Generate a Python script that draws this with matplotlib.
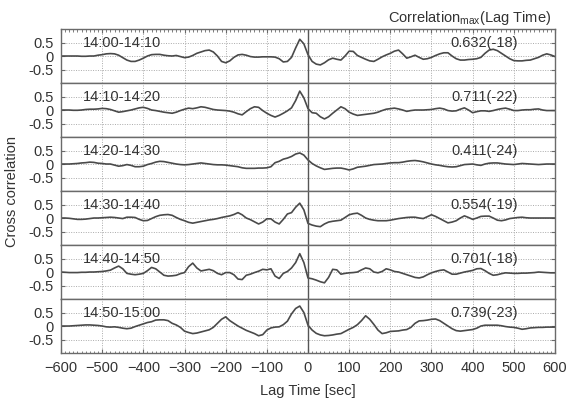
import numpy as np
import matplotlib
matplotlib.use("Agg")
import matplotlib.pyplot as plt
from matplotlib.ticker import MultipleLocator

plt.rcParams['font.family'] = ['Liberation Sans', 'DejaVu Sans']
plt.rcParams['mathtext.fontset'] = 'custom'
plt.rcParams['mathtext.rm'] = 'Liberation Sans'
plt.rcParams['mathtext.it'] = 'Liberation Sans'

lag = list(range(-600, 601, 10))

windows = ["14:00-14:10", "14:10-14:20", "14:20-14:30",
           "14:30-14:40", "14:40-14:50", "14:50-15:00"]
corr_max = ["0.632(-18)", "0.711(-22)", "0.411(-24)",
            "0.554(-19)", "0.701(-18)", "0.739(-23)"]

cc_1400 = [0.0, 0.0, 0.0, 0.0, 0.0, -0.01, -0.01, 0.0, 0.0, 0.03,
           0.05, 0.08, 0.09, 0.08, 0.03, -0.06, -0.15, -0.2, -0.2, -0.15,
           -0.08, 0.0, 0.05, 0.06, 0.06, 0.03, 0.01, 0.0, 0.02, -0.02,
           -0.06, -0.04, 0.02, 0.1, 0.15, 0.2, 0.22, 0.15, 0.0, -0.2,
           -0.25, -0.18, -0.05, 0.04, 0.06, 0.03, -0.02, -0.04, -0.04, -0.03,
           -0.03, -0.03, -0.04, -0.1, -0.22, -0.2, -0.05, 0.3, 0.62, 0.45,
           0.05, -0.2, -0.3, -0.33, -0.25, -0.14, -0.08, -0.12, -0.15, 0.0,
           0.18, 0.17, 0.02, -0.05, -0.12, -0.18, -0.2, -0.12, -0.03, 0.04,
           0.1, 0.18, 0.22, 0.08, -0.08, -0.03, 0.03, -0.05, -0.12, -0.1,
           -0.05, 0.02, 0.08, 0.12, 0.12, 0.0, -0.1, -0.15, -0.15, -0.13,
           -0.12, -0.1, -0.05, 0.1, 0.22, 0.25, 0.2, 0.1, 0.0, -0.1,
           -0.17, -0.18, -0.18, -0.16, -0.15, -0.1, -0.05, 0.03, 0.08, 0.04,
           -0.02]
cc_1410 = [0.0, 0.0, 0.0, -0.01, -0.01, 0.0, 0.02, 0.03, 0.03, 0.04,
           0.06, 0.05, 0.02, -0.03, -0.08, -0.06, -0.03, 0.0, 0.04, 0.08,
           0.1, 0.06, 0.0, -0.02, -0.05, -0.08, -0.1, -0.12, -0.08, -0.02,
           0.03, 0.07, 0.05, 0.08, 0.12, 0.1, 0.06, 0.02, 0.0, -0.01,
           -0.02, -0.04, -0.08, -0.14, -0.18, -0.06, 0.05, 0.12, 0.1, -0.02,
           -0.12, -0.2, -0.26, -0.2, -0.12, -0.03, 0.08, 0.35, 0.7, 0.45,
           0.05, -0.1, -0.12, -0.25, -0.33, -0.25, -0.12, 0.0, 0.12, 0.05,
           -0.08, -0.15, -0.2, -0.18, -0.16, -0.14, -0.12, -0.08, -0.02, 0.03,
           0.05, 0.07, 0.04, 0.0, -0.05, -0.02, 0.0, 0.0, 0.0, 0.01,
           0.02, 0.05, 0.07, 0.04, -0.02, -0.04, -0.03, 0.03, 0.08, 0.0,
           -0.1, -0.06, -0.03, -0.03, -0.05, -0.02, 0.02, 0.05, 0.07, 0.03,
           -0.02, -0.02, 0.0, 0.01, 0.01, 0.03, 0.04, 0.0, -0.02, -0.02,
           -0.02]
cc_1420 = [0.0, 0.0, 0.0, 0.01, 0.02, 0.04, 0.05, 0.07, 0.06, 0.03,
           0.02, 0.0, 0.0, -0.04, -0.08, -0.06, -0.02, -0.05, -0.1, -0.1,
           -0.08, -0.02, 0.02, 0.07, 0.1, 0.09, 0.06, 0.03, 0.0, -0.02,
           -0.03, -0.02, 0.0, 0.02, 0.04, 0.02, 0.0, -0.02, -0.03, -0.03,
           -0.04, -0.06, -0.08, -0.1, -0.14, -0.16, -0.16, -0.16, -0.15, -0.15,
           -0.14, -0.1, 0.05, 0.1, 0.18, 0.22, 0.28, 0.37, 0.41, 0.33,
           0.15, 0.02, -0.07, -0.14, -0.2, -0.18, -0.16, -0.15, -0.15, -0.18,
           -0.22, -0.18, -0.12, -0.1, -0.08, -0.05, -0.02, -0.01, 0.0, 0.02,
           0.04, 0.05, 0.05, 0.07, 0.1, 0.12, 0.13, 0.11, 0.08, 0.04,
           0.0, -0.03, -0.05, -0.08, -0.1, -0.11, -0.1, -0.06, -0.02, -0.01,
           0.0, -0.03, -0.05, 0.0, 0.03, 0.04, 0.04, 0.02, 0.0, -0.01,
           -0.02, 0.0, 0.02, 0.01, 0.0, -0.01, -0.02, -0.01, 0.0, 0.0,
           0.0]
cc_1430 = [0.0, 0.0, -0.01, -0.03, -0.05, -0.05, -0.04, -0.02, 0.0, 0.0,
           0.01, 0.02, 0.03, 0.02, 0.0, -0.02, 0.03, 0.03, 0.02, -0.05,
           -0.1, -0.09, -0.02, 0.05, 0.1, 0.12, 0.13, 0.1, 0.02, -0.05,
           -0.1, -0.16, -0.19, -0.16, -0.13, -0.1, -0.07, -0.05, -0.02, 0.02,
           0.05, 0.08, 0.13, 0.2, 0.12, 0.0, -0.06, -0.14, -0.22, -0.15,
           -0.03, -0.03, -0.15, -0.22, -0.05, 0.15, 0.2, 0.4, 0.55, 0.3,
           -0.2, -0.26, -0.3, -0.32, -0.22, -0.15, -0.12, -0.1, -0.08, 0.02,
           0.12, 0.16, 0.18, 0.1, 0.0, -0.05, -0.08, -0.1, -0.1, -0.1,
           -0.08, -0.05, -0.02, 0.0, 0.02, 0.03, 0.03, 0.0, -0.02, 0.05,
           0.12, 0.06, -0.02, -0.1, -0.18, -0.15, -0.1, 0.0, 0.08, 0.02,
           -0.05, 0.0, 0.06, 0.07, 0.07, 0.0, -0.08, -0.1, -0.07, -0.02,
           0.0, 0.02, 0.03, 0.01, 0.0, 0.0, 0.0, 0.0, 0.0, 0.0,
           0.0]
cc_1440 = [0.0, -0.01, -0.02, -0.02, -0.02, -0.01, -0.01, 0.0, 0.0, 0.01,
           0.02, 0.04, 0.07, 0.15, 0.22, 0.12, -0.05, -0.08, -0.1, -0.08,
           -0.05, 0.05, 0.17, 0.12, 0.0, -0.12, -0.15, -0.14, -0.12, -0.06,
           -0.02, 0.2, 0.33, 0.15, 0.04, 0.07, 0.1, 0.05, -0.05, -0.1,
           -0.02, -0.02, -0.1, -0.26, -0.28, -0.12, -0.08, -0.02, 0.03, 0.1,
           0.08, 0.12, -0.15, -0.24, -0.05, 0.02, 0.15, 0.35, 0.68, 0.35,
           -0.22, -0.25, -0.3, -0.36, -0.4, -0.2, 0.1, 0.08, -0.08, -0.05,
           -0.03, -0.02, 0.0, 0.08, 0.15, 0.12, 0.0, -0.03, 0.02, 0.12,
           0.08, 0.02, 0.0, -0.05, -0.1, -0.15, -0.2, -0.22, -0.18, -0.1,
           -0.03, 0.02, 0.06, 0.08, 0.0, -0.08, -0.08, -0.04, 0.0, 0.03,
           0.06, 0.12, 0.13, 0.05, -0.05, -0.12, -0.1, -0.06, -0.03, -0.04,
           -0.05, -0.05, -0.04, -0.04, -0.03, -0.02, 0.0, -0.01, -0.02, -0.03,
           -0.03]
cc_1450 = [0.0, 0.0, 0.0, 0.01, 0.02, 0.03, 0.04, 0.04, 0.03, 0.02,
           0.0, -0.03, -0.04, -0.03, -0.05, -0.08, -0.1, -0.08, -0.02, 0.03,
           0.08, 0.13, 0.16, 0.22, 0.23, 0.23, 0.2, 0.1, 0.04, -0.05,
           -0.19, -0.24, -0.28, -0.26, -0.22, -0.18, -0.14, -0.05, 0.1, 0.25,
           0.34, 0.2, 0.1, 0.0, -0.08, -0.16, -0.22, -0.28, -0.36, -0.32,
           -0.15, -0.07, -0.04, -0.03, 0.05, 0.18, 0.45, 0.65, 0.74, 0.5,
           0.03, -0.15, -0.27, -0.33, -0.36, -0.35, -0.33, -0.3, -0.28, -0.2,
           -0.12, -0.05, 0.05, 0.2, 0.38, 0.25, 0.06, -0.15, -0.28, -0.25,
           -0.2, -0.19, -0.18, -0.15, -0.13, -0.05, 0.1, 0.19, 0.2, 0.22,
           0.25, 0.26, 0.2, 0.1, 0.0, -0.1, -0.17, -0.19, -0.17, -0.15,
           -0.13, -0.08, 0.0, 0.03, 0.03, 0.03, 0.03, 0.01, -0.02, -0.04,
           -0.05, -0.08, -0.12, -0.1, -0.07, -0.06, -0.05, -0.05, -0.04, -0.04,
           -0.04]

series = [cc_1400, cc_1410, cc_1420, cc_1430, cc_1440, cc_1450]

fig = plt.figure(figsize=(5.67, 4.03), dpi=100)
gs = fig.add_gridspec(6, 1, left=0.1076, right=0.9788, top=0.928, bottom=0.124, hspace=0)
axes = [fig.add_subplot(gs[i, 0]) for i in range(6)]

line_col = '#4a4a4a'
spine_col = '#6a6a6a'
txt_col = '#333333'
fs = 10.5
for i, ax in enumerate(axes):
    ax.plot(lag, series[i], color=line_col, lw=1.2, solid_joinstyle='round')
    ax.axvline(0, color='#555555', lw=1.0)
    ax.set_xlim(-600, 600)
    ax.set_ylim(-1, 1)
    ax.set_yticks([0.5, 0, -0.5])
    ax.set_yticklabels(['0.5', '0', '-0.5'], fontsize=fs, color=txt_col)
    ax.xaxis.set_major_locator(MultipleLocator(100))
    ax.grid(True, which='major', color='#aaaaaa', ls=(0, (1, 1.5)), lw=0.7)
    for s in ax.spines.values():
        s.set_color(spine_col)
        s.set_linewidth(1.0)
    ax.tick_params(axis='y', direction='in', length=3, width=0.8, color=spine_col,
                   right=True, left=True, pad=5)
    ax.tick_params(axis='x', direction='in', length=3, width=0.8, color=spine_col,
                   top=(i == 0), bottom=(i == 5), labelbottom=(i == 5),
                   labelsize=fs, labelcolor=txt_col, pad=6)
    ax.xaxis.set_minor_locator(MultipleLocator(10))
    ax.tick_params(axis='x', which='minor', direction='in', length=1.8, width=0.6,
                   color=spine_col, top=(i == 0), bottom=(i == 5))
    ax.text(-548, 0.5, windows[i], fontsize=fs, color=txt_col, ha='left', va='center')
    ax.text(510, 0.5, corr_max[i], fontsize=fs, color=txt_col, ha='right', va='center')

axes[5].set_xticks(range(-600, 601, 100))
axes[5].set_xlabel('Lag Time [sec]', fontsize=fs, color=txt_col, labelpad=6)
fig.text(0.021, 0.524, 'Cross correlation', rotation=90, fontsize=fs, color=txt_col,
         ha='center', va='center')
fig.text(0.972, 0.955, r'Correlation$_{\mathrm{max}}$(Lag Time)', fontsize=fs,
         color=txt_col, ha='right', va='center')

fig.savefig('out.png', dpi=100)
